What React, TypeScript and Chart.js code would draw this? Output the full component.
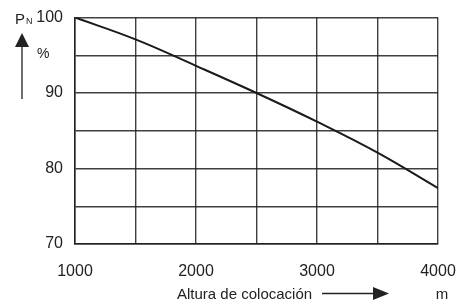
import React, { useEffect, useRef } from "react";
import { Chart, registerables } from "chart.js";

Chart.register(...registerables);

const altitudes = [1000, 1500, 2000, 2500, 3000, 3500, 4000];
const power = [100, 97.1, 93.6, 90, 86.2, 82.1, 77.4];
const yTickLabels = [70, 80, 90, 100];
const xTickLabels = [1000, 2000, 3000, 4000];
const xTitle = "Altura de colocación";
const yTitle = "P";
const ySub = "N";
const yUnit = "%";
const xUnit = "m";

const FONT = "'Liberation Sans', Arial, sans-serif";

const decorPlugin = {
  id: "decor",
  afterDraw(chart: any) {
    const ctx = chart.ctx;
    ctx.save();
    ctx.fillStyle = "#222";
    ctx.strokeStyle = "#222";
    // P_N
    ctx.textBaseline = "alphabetic";
    ctx.textAlign = "left";
    ctx.font = `15px ${FONT}`;
    ctx.fillText(yTitle, 15, 24);
    const pw = ctx.measureText(yTitle).width;
    ctx.font = `9px ${FONT}`;
    ctx.fillText(ySub, 15 + pw + 1, 24);
    // vertical arrow
    ctx.lineWidth = 1.3;
    ctx.beginPath();
    ctx.moveTo(22, 46);
    ctx.lineTo(22, 99);
    ctx.stroke();
    ctx.beginPath();
    ctx.moveTo(22, 33);
    ctx.lineTo(15, 47);
    ctx.lineTo(29, 47);
    ctx.closePath();
    ctx.fill();
    // %
    ctx.font = `14px ${FONT}`;
    ctx.fillText(yUnit, 37, 58);
    // x title
    ctx.font = `15px ${FONT}`;
    ctx.fillText(xTitle, 177, 299);
    // horizontal arrow
    ctx.beginPath();
    ctx.moveTo(322, 293.5);
    ctx.lineTo(375, 293.5);
    ctx.stroke();
    ctx.beginPath();
    ctx.moveTo(389, 293.5);
    ctx.lineTo(373, 287);
    ctx.lineTo(373, 300);
    ctx.closePath();
    ctx.fill();
    // m
    ctx.textAlign = "center";
    ctx.fillText(xUnit, 442, 299);
    ctx.restore();
  },
};

export default function App() {
  const ref = useRef<HTMLCanvasElement>(null);
  useEffect(() => {
    if (!ref.current) return;
    const chart = new Chart(ref.current, {
      type: "line",
      data: {
        datasets: [
          {
            data: altitudes.map((x, i) => ({ x, y: power[i] })),
            borderColor: "#1a1a1a",
            borderWidth: 2,
            pointRadius: 0,
            tension: 0.4,
            fill: false,
          },
        ],
      },
      options: {
        responsive: false,
        animation: false,
        layout: { padding: { top: 17.5, right: 19, left: 0, bottom: 0 } },
        plugins: { legend: { display: false }, tooltip: { enabled: false } },
        scales: {
          x: {
            type: "linear",
            min: 1000,
            max: 4000,
            afterFit(scale: any) {
              scale.height = 59;
              scale.paddingLeft = 0;
              scale.paddingRight = 0;
            },
            border: { display: true, color: "#222", width: 1.5 },
            grid: { color: "rgba(30,30,30,0.85)", lineWidth: 1.4, drawTicks: false },
            ticks: {
              stepSize: 500,
              padding: 18,
              color: "#222",
              font: { family: FONT, size: 16 },
              maxRotation: 0,
              autoSkip: false,
              callback: (v: any) => (xTickLabels.includes(v) ? String(v) : ""),
            },
          },
          y: {
            type: "linear",
            min: 70,
            max: 100,
            afterFit(scale: any) {
              scale.width = 75;
              scale.paddingTop = 0;
              scale.paddingBottom = 0;
            },
            border: { display: true, color: "#222", width: 1.5 },
            grid: { color: "rgba(30,30,30,0.85)", lineWidth: 1.4, drawTicks: false },
            ticks: {
              stepSize: 5,
              padding: 12,
              color: "#222",
              font: { family: FONT, size: 16 },
              autoSkip: false,
              callback: (v: any) => (yTickLabels.includes(v) ? String(v) : ""),
            },
          },
        },
      },
      plugins: [decorPlugin],
    } as any);
    return () => chart.destroy();
  }, []);
  return (
    <div style={{ position: "fixed", left: 0, top: 0, width: 457, height: 303, background: "#fff" }}>
      <canvas ref={ref} width={457} height={303} />
    </div>
  );
}
